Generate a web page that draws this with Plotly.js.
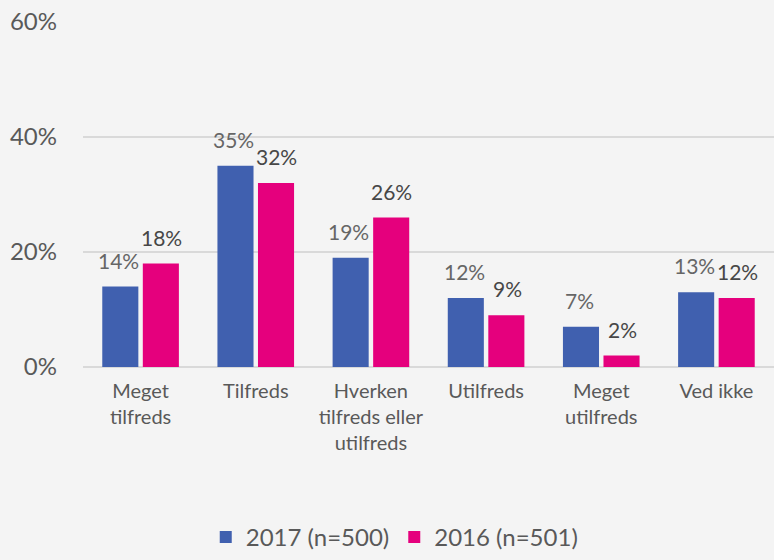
<!DOCTYPE html>
<html>
<head>
<meta charset="utf-8">
<script src="https://cdn.plot.ly/plotly-3.0.1.min.js"></script>
<style>html,body{margin:0;padding:0;background:#f4f4f4;}#chart{width:774px;height:560px;}</style>
</head>
<body>
<div id="chart"></div>
<script>
const categories = ["Meget<br>tilfreds", "Tilfreds", "Hverken<br>tilfreds eller<br>utilfreds", "Utilfreds", "Meget<br>utilfreds", "Ved ikke"];
const values2017 = [0.14, 0.35, 0.19, 0.12, 0.07, 0.13];
const values2016 = [0.18, 0.32, 0.26, 0.09, 0.02, 0.12];
const seriesNames = ["2017 (n=500)", "2016 (n=501)"];
const yTickVals = [0, 0.2, 0.4, 0.6];

const font = "Lato, 'Open Sans', sans-serif";
const colors = ["#4060AF", "#E5007D"];
const labelColors = ["#666666", "#474747"];

const traces = [
  {type: "bar", x: categories, y: values2017, name: seriesNames[0], marker: {color: colors[0]}, textinfo: "none"},
  {type: "bar", x: categories, y: values2016, name: seriesNames[1], marker: {color: colors[1]}, textinfo: "none"}
];

const annotations = [];
[values2017, values2016].forEach((vals, s) => {
  vals.forEach((v, i) => {
    annotations.push({
      x: categories[i], y: v, xref: "x", yref: "y",
      text: Math.round(v * 100) + "%",
      showarrow: false, yanchor: "bottom", xanchor: "center",
      xshift: s === 0 ? -22 : 21, yshift: 12,
      font: {family: font, size: 21, color: labelColors[s]}
    });
  });
});

const layout = {
  width: 774, height: 560,
  paper_bgcolor: "#f4f4f4", plot_bgcolor: "#f4f4f4",
  margin: {l: 83, r: 0, t: 22, b: 193},
  font: {family: font, color: "#595959"},
  bargap: 0.296, bargroupgap: 0.11,
  barmode: "group",
  showlegend: true,
  legend: {orientation: "h", x: 0.51, xref: "container", xanchor: "center",
           y: 0, yref: "container", yanchor: "bottom",
           font: {family: font, size: 24, color: "#595959"}, itemwidth: 30, tracegroupgap: 0},
  annotations: annotations,
  xaxis: {
    tickfont: {family: font, size: 20, color: "#595959"},
    showgrid: false, showline: false, ticks: "", fixedrange: true,
    ticklabelstandoff: 10, automargin: false
  },
  yaxis: {
    range: [0, 0.6], tickvals: yTickVals, tickformat: ".0%",
    tickfont: {family: font, size: 24, color: "#595959"},
    showgrid: true, gridcolor: "#d9d9d9", gridwidth: 1.5,
    zeroline: true, zerolinecolor: "#d9d9d9", zerolinewidth: 1.5,
    showline: false, ticks: "", ticklabelstandoff: 25, automargin: false
  }
};

Plotly.newPlot("chart", traces, layout, {displayModeBar: false, staticPlot: true});
</script>
</body>
</html>
